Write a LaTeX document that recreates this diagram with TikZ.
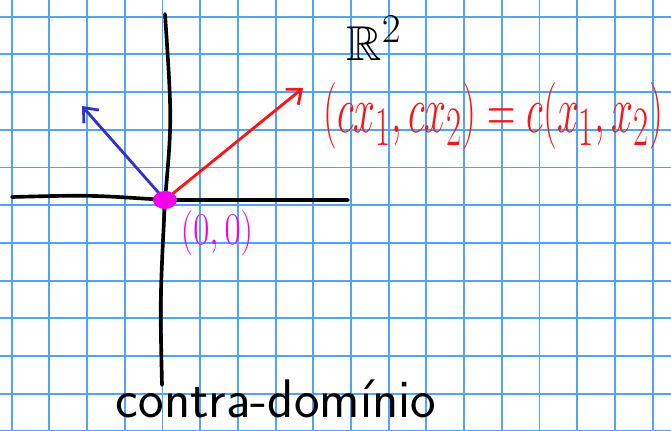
\documentclass[tikz,border=0pt]{standalone}
\usepackage{amsmath,amssymb}
\usepackage{graphicx}
\usepackage{xcolor}
\usepackage{tikz}
\usetikzlibrary{arrows.meta,positioning,calc}
\definecolor{gridcolor}{RGB}{80, 165, 250}
\definecolor{vecblue}{RGB}{50, 50, 200}
\definecolor{vecred}{RGB}{250, 20, 20}
\definecolor{pinkdot}{RGB}{245, 0, 235}

\begin{document}
\begin{tikzpicture}[
    x=0.025cm, y=-0.025cm,
    font=\sffamily,
    % Grid paper lines
    gridline/.style={draw=gridcolor, line width=1.4pt},
    % Axis style
    axis/.style={draw=black, line width=2.6pt, line cap=round},
    % Vector style
    vec/.style={line width=2pt, line cap=round, -{Straight Barb[length=3mm, width=5mm, line width=2pt]}},
    % Handwritten label
    lbl/.style={inner sep=0pt}
]
    \useasboundingbox (0,0) rectangle (671,431);
    \fill[white] (0,0) rectangle (671,431);

    % --- GRID PAPER ---
    \foreach \k in {0,...,17} {
        \draw[gridline] (11.7+\k*37.7, 0) -- (11.7+\k*37.7, 431);
    }
    \foreach \k in {0,...,11} {
        \draw[gridline] (0, 16.7+\k*37.7) -- (671, 16.7+\k*37.7);
    }

    % --- AXES ---
    \coordinate (O) at (165,200);
    \coordinate (ytop) at (165,14);
    \coordinate (ybot) at (162,385);
    \coordinate (xleft) at (12,197);
    \coordinate (xright) at (348,200);
    \draw[axis] (ytop) .. controls (172,120) .. (O) .. controls (160,300) .. (ybot);
    \draw[axis] (xleft) .. controls (90,195) .. (O) -- (xright);

    % --- VECTORS ---
    \coordinate (bluetip) at (82,106);
    \coordinate (redtip) at (303,88);
    \draw[vec, vecblue] (O) -- (bluetip);
    \draw[vec, vecred] (O) -- (redtip);

    % Origin dot
    \fill[pinkdot] (O) ellipse (12 and 9);

    % --- LABELS ---
    \node[lbl] (space) at (374,38) {\scalebox{1.4}{\Huge $\mathbb{R}^2$}};
    \node[lbl, text=vecred, anchor=west] (rel) at (323,116)
        {\resizebox{8.5cm}{1.25cm}{\Huge $(cx_1,cx_2) = c(x_1,x_2)$}};
    \node[lbl, text=pinkdot] (orig) at (217,233) {\scalebox{1}[1.3]{\Huge $(0,0)$}};
    \node[lbl, anchor=base] (codom) at (276,417) {\resizebox{8.0cm}{!}{\Huge contra-dom\'{\i}nio}};

\end{tikzpicture}
\end{document}
